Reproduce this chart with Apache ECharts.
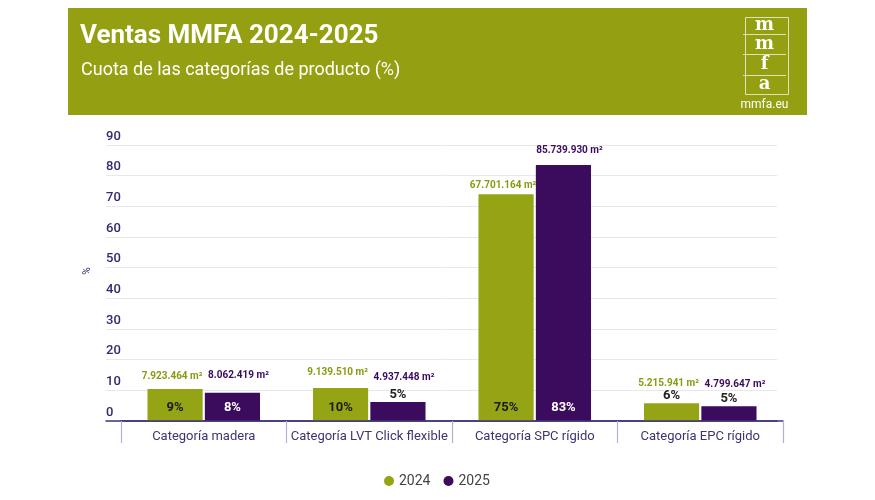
<!DOCTYPE html>
<html>
<head>
<meta charset="utf-8">
<script src="https://cdn.jsdelivr.net/npm/echarts@6/dist/echarts.min.js"></script>
<style>
html,body{margin:0;padding:0;background:#ffffff;}
#chart{width:875px;height:500px;}
</style>
</head>
<body>
<div id="chart"></div>
<script>
// ---- data ----
var categories = ['Categoría madera', 'Categoría LVT Click flexible', 'Categoría SPC rígido', 'Categoría EPC rígido'];
var seriesNames = ['2024', '2025'];
var share2024 = [10.4, 10.8, 73.9, 5.8];
var share2025 = [9.2, 6.2, 83.5, 4.8];
var pctLabels2024 = ['9%', '10%', '75%', '6%'];
var pctLabels2025 = ['8%', '5%', '83%', '5%'];
var area2024 = ['7.923.464', '9.139.510', '67.701.164', '5.215.941'];
var area2025 = ['8.062.419', '4.937.448', '85.739.930', '4.799.647'];
var yTicks = [0, 10, 20, 30, 40, 50, 60, 70, 80, 90];

// ---- styles ----
var GREEN = '#95a414';
var HEADER = '#94a012';
var PURPLE = '#3b0b5e';
var NAVY = '#2f2b6c';
var FONT = 'Roboto, "Noto Sans", sans-serif';
var areaGap2024 = [8, 10, 4, 15];
var areaGap2025 = [12, 19, 9, 17];

function barData(values, pcts, insideColor) {
  return values.map(function (v, i) {
    var outside = v < 7;
    return {
      value: v,
      label: {
        show: true,
        formatter: pcts[i],
        position: outside ? 'top' : 'insideBottom',
        distance: outside ? 1 : 7,
        color: outside ? '#222222' : insideColor,
        fontSize: 13,
        fontWeight: 'bold',
        fontFamily: FONT
      }
    };
  });
}
function areaData(values, areas, gaps, color, shift) {
  return values.map(function (v, i) {
    return {
      value: 0,
      label: {
        show: true,
        position: 'top',
        distance: gaps[i],
        offset: [shift, 0],
        formatter: areas[i] + ' m²',
        color: color,
        fontSize: 10,
        fontWeight: 'bold',
        fontFamily: FONT
      }
    };
  });
}

var chart = echarts.init(document.getElementById('chart'), null, {renderer: 'canvas'});
var option = {
  animation: false,
  backgroundColor: '#ffffff',
  grid: [
    {left: 121, right: 92, top: 145, bottom: 79},
    {left: 106, right: 98, top: 145, bottom: 79}
  ],
  xAxis: [
    {
      type: 'category', gridIndex: 0, data: categories, boundaryGap: true,
      axisLine: {show: true, lineStyle: {color: '#3d3878', width: 1.5}},
      axisTick: {show: true, length: 22, alignWithLabel: false, lineStyle: {color: '#b3afd1', width: 1.2}},
      axisLabel: {interval: 0, margin: 9, color: '#3b3670', fontSize: 13, fontFamily: FONT},
      z: 5
    },
    {
      type: 'value', gridIndex: 1, min: 0, max: 1,
      axisLine: {show: true, onZero: false, lineStyle: {color: '#3d3878', width: 1.5}},
      axisTick: {show: false}, axisLabel: {show: false}, splitLine: {show: false}
    }
  ],
  yAxis: [
    {
      type: 'value', gridIndex: 0, min: 0, max: 90, interval: 10,
      axisLine: {show: false}, axisTick: {show: false},
      axisLabel: {show: false}, splitLine: {show: false}
    },
    {
      type: 'value', gridIndex: 1, min: yTicks[0], max: yTicks[yTicks.length - 1], interval: 10,
      axisLine: {show: false}, axisTick: {show: false},
      axisLabel: {
        inside: true, margin: 0, align: 'left', verticalAlign: 'bottom',
        padding: [0, 0, 2, 0],
        color: NAVY, fontSize: 13, fontWeight: 500, fontFamily: FONT
      },
      splitLine: {show: true, lineStyle: {color: '#e8e8ec', width: 1}}
    }
  ],
  legend: {
    data: seriesNames,
    left: 379, top: 469,
    icon: 'circle', itemWidth: 10, itemHeight: 10, itemGap: 13,
    textStyle: {color: '#444444', fontSize: 14, fontFamily: FONT}
  },
  series: [
    {
      name: seriesNames[0], type: 'bar', stack: 's2024', xAxisIndex: 0, yAxisIndex: 0,
      itemStyle: {color: GREEN},
      data: barData(share2024, pctLabels2024, '#1a1a1a'),
      barGap: '4%', barCategoryGap: '32%'
    },
    {
      name: 'area2024', type: 'bar', stack: 's2024', xAxisIndex: 0, yAxisIndex: 0,
      itemStyle: {color: 'rgba(0,0,0,0)'},
      data: areaData(share2024, area2024, areaGap2024, '#8a9a10', -3),
      barGap: '4%', barCategoryGap: '32%'
    },
    {
      name: seriesNames[1], type: 'bar', stack: 's2025', xAxisIndex: 0, yAxisIndex: 0,
      itemStyle: {color: PURPLE},
      data: barData(share2025, pctLabels2025, '#ffffff'),
      barGap: '4%', barCategoryGap: '32%'
    },
    {
      name: 'area2025', type: 'bar', stack: 's2025', xAxisIndex: 0, yAxisIndex: 0,
      itemStyle: {color: 'rgba(0,0,0,0)'},
      data: areaData(share2025, area2025, areaGap2025, '#3b0b5e', 6),
      barGap: '4%', barCategoryGap: '32%'
    }
  ],
  graphic: [
    {type: 'rect', left: 68, top: 8, shape: {width: 739, height: 107}, style: {fill: HEADER}, z: 0},
    {type: 'text', left: 80, top: 23, style: {text: 'Ventas MMFA 2024-2025', fill: '#ffffff', font: 'bold 26px ' + FONT}},
    {type: 'text', left: 81, top: 61, style: {text: 'Cuota de las categorías de producto (%)', fill: '#ffffff', font: '18px ' + FONT}},
    {type: 'rect', left: 743, top: 15, shape: {width: 43, height: 77}, style: {fill: 'none', stroke: 'rgba(255,255,255,0.7)', lineWidth: 1}},
    {type: 'line', shape: {x1: 743, y1: 34.5, x2: 786, y2: 34.5}, style: {stroke: 'rgba(255,255,255,0.7)', lineWidth: 1}},
    {type: 'line', shape: {x1: 743, y1: 54.5, x2: 786, y2: 54.5}, style: {stroke: 'rgba(255,255,255,0.7)', lineWidth: 1}},
    {type: 'line', shape: {x1: 743, y1: 75.5, x2: 786, y2: 75.5}, style: {stroke: 'rgba(255,255,255,0.7)', lineWidth: 1}},
    {type: 'text', x: 764.5, y: 25, style: {text: 'm', fill: '#ffffff', font: 'bold 18px "DejaVu Serif", serif', align: 'center', verticalAlign: 'middle'}},
    {type: 'text', x: 764.5, y: 44, style: {text: 'm', fill: '#ffffff', font: 'bold 18px "DejaVu Serif", serif', align: 'center', verticalAlign: 'middle'}},
    {type: 'text', x: 764.5, y: 64.5, style: {text: 'f', fill: '#ffffff', font: 'bold 18px "DejaVu Serif", serif', align: 'center', verticalAlign: 'middle'}},
    {type: 'text', x: 764.5, y: 84, style: {text: 'a', fill: '#ffffff', font: 'bold 18px "DejaVu Serif", serif', align: 'center', verticalAlign: 'middle'}},
    {type: 'text', x: 764.5, y: 105, style: {text: 'mmfa.eu', fill: '#ffffff', font: '12px ' + FONT, align: 'center', verticalAlign: 'middle'}},
    {type: 'text', x: 87, y: 271, rotation: Math.PI / 2, style: {text: '%', fill: NAVY, font: '10px ' + FONT, align: 'center', verticalAlign: 'middle'}}
  ]
};
chart.setOption(option);
</script>
</body>
</html>
